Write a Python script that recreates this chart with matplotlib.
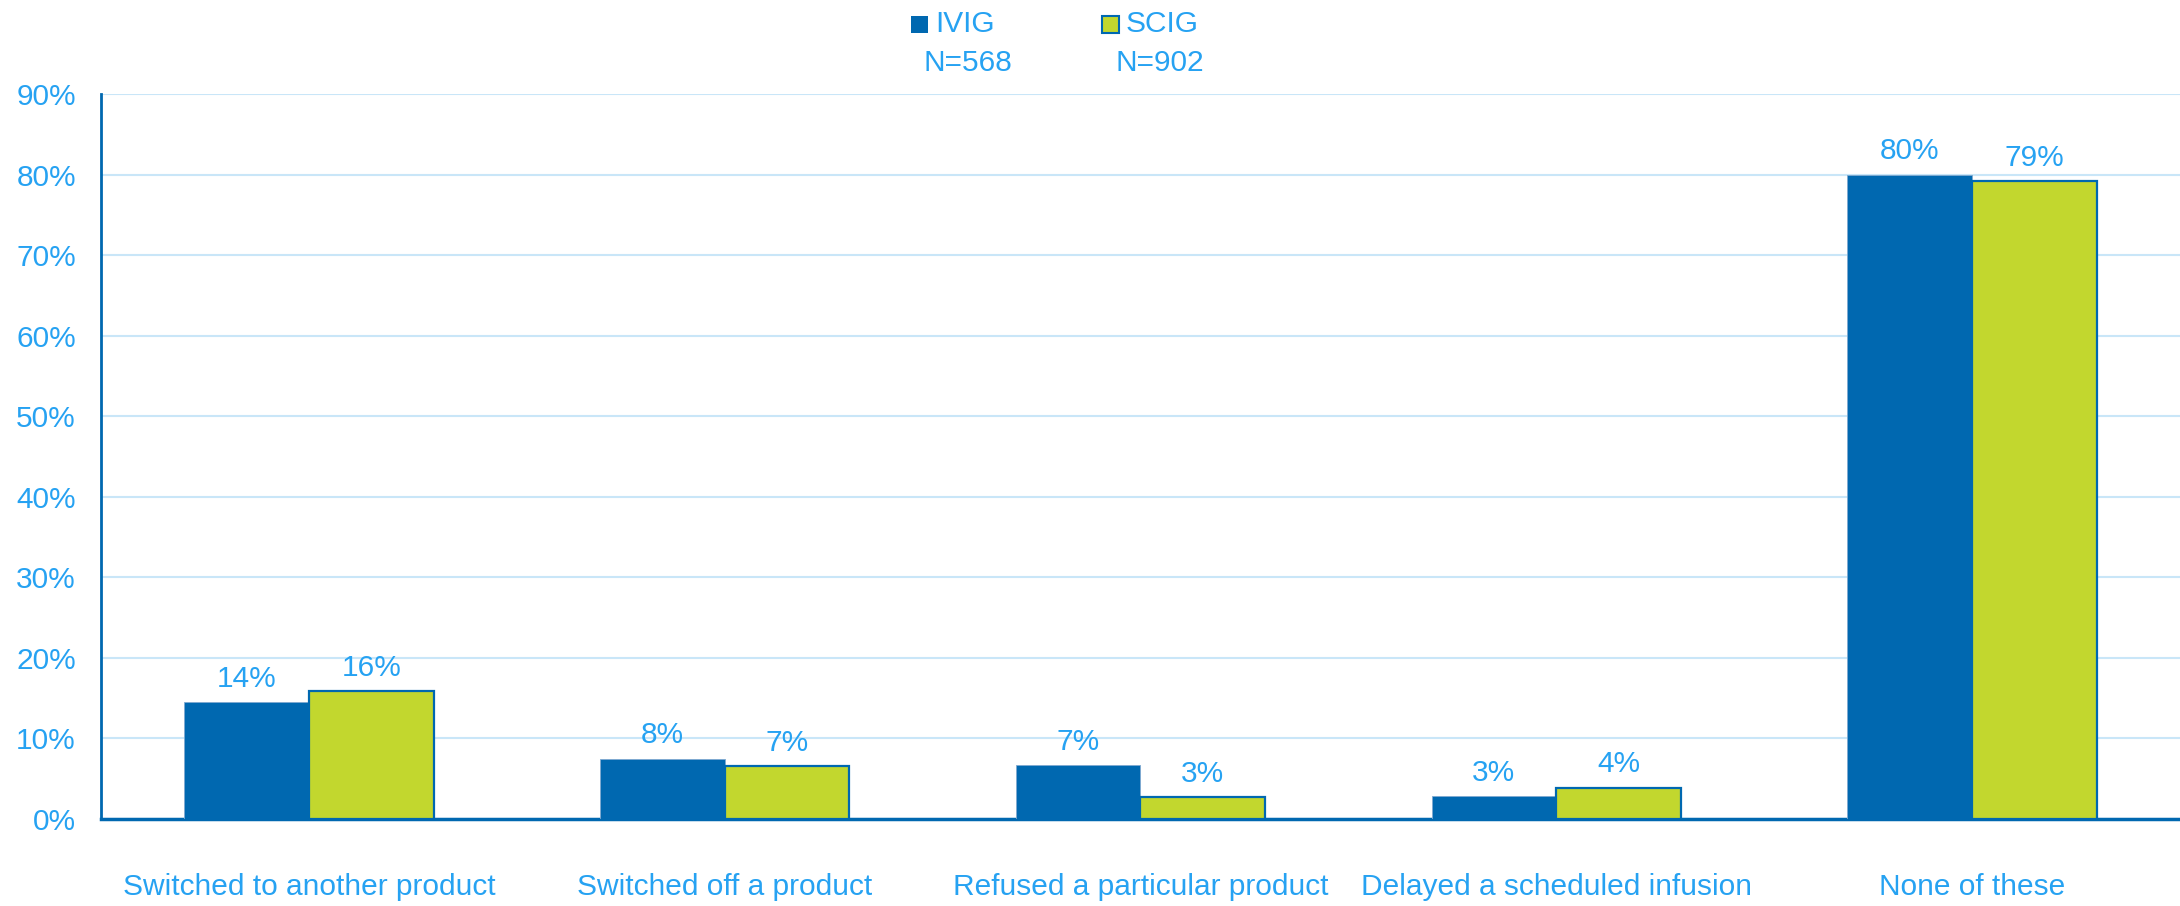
import numpy as np
import matplotlib
matplotlib.use("Agg")
import matplotlib.pyplot as plt
from matplotlib.patches import Rectangle

# categories and the two series (percent of respondents)
categories = ["Switched to another product", "Switched off a product",
              "Refused a particular product", "Delayed a scheduled infusion",
              "None of these"]
ivig = [14.5, 7.5, 6.7, 2.8, 80.0]
scig = [15.9, 6.6, 2.7, 3.9, 79.2]
ivig_labels = ["14%", "8%", "7%", "3%", "80%"]
scig_labels = ["16%", "7%", "3%", "4%", "79%"]
series_names = ["IVIG", "SCIG"]
series_n = ["N=568", "N=902"]
yticks = [0, 10, 20, 30, 40, 50, 60, 70, 80, 90]

# colours
dark_blue = "#0068B0"
lime = "#C2D72E"
txt = "#26A2F2"
grid_c = "#C9E6F8"
fs = 21.5

plt.rcParams['font.family'] = ['Liberation Sans', 'DejaVu Sans']

fig = plt.figure(figsize=(21.8, 9.06), dpi=100)
ax = fig.add_axes([0.0463, 0.096, 0.9537, 0.80])

x = np.arange(len(categories))
w = 0.30
b1 = ax.bar(x - w / 2, ivig, w, color=dark_blue, edgecolor="#7FA9D0", linewidth=0.6, zorder=3)
b2 = ax.bar(x + w / 2, scig, w, color=lime, edgecolor=dark_blue, linewidth=1.6, zorder=3)

# value labels above bars
for bars, labs in [(b1, ivig_labels), (b2, scig_labels)]:
    for rect, lab in zip(bars, labs):
        ax.annotate(lab, (rect.get_x() + rect.get_width() / 2, rect.get_height()),
                    xytext=(0, 11), textcoords="offset points",
                    ha="center", va="baseline", fontsize=fs, color=txt)

ax.set_xlim(-0.5, len(categories) - 0.5)
ax.set_ylim(0, 90)
ax.set_yticks(yticks)
ax.set_yticklabels([f"{v}%" for v in yticks])
ax.set_xticks(x)
ax.set_xticklabels(categories)
ax.tick_params(axis="y", length=0, pad=18, labelsize=fs, labelcolor=txt)
ax.tick_params(axis="x", length=0, pad=39, labelsize=fs, labelcolor=txt)

ax.grid(axis="y", color=grid_c, linewidth=1.5, zorder=0)
ax.set_axisbelow(True)
for s in ["top", "right"]:
    ax.spines[s].set_visible(False)
ax.spines["left"].set_color(dark_blue)
ax.spines["left"].set_linewidth(2)
ax.spines["bottom"].set_color(dark_blue)
ax.spines["bottom"].set_linewidth(2.5)

# legend drawn by hand: square marker, name, and N underneath
leg_x = [911 / 2180, 1102 / 2180]
for i, (name, n) in enumerate(zip(series_names, series_n)):
    fc = dark_blue if i == 0 else lime
    fig.patches.append(Rectangle((leg_x[i], 1 - 33 / 906), 17 / 2180, 17 / 906,
                                 transform=fig.transFigure, facecolor=fc,
                                 edgecolor=dark_blue, linewidth=1.5 if i else 0))
    fig.text(leg_x[i] + 24 / 2180, 1 - 24 / 906, name, fontsize=fs, color=txt,
             ha="left", va="center")
    fig.text(leg_x[i] + 13 / 2180, 1 - 63 / 906, n, fontsize=fs, color=txt,
             ha="left", va="center")

plt.savefig("out.png", dpi=100)
